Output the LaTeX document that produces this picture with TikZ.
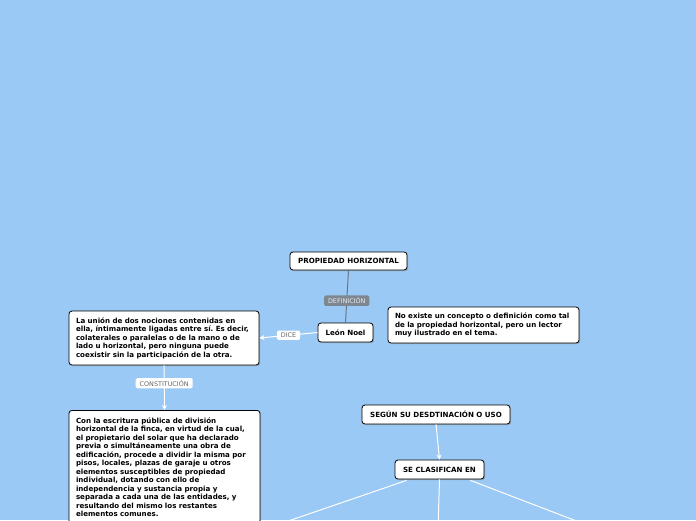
\documentclass[tikz,border=0pt]{standalone}
\usepackage{fontspec}
\setmainfont{DejaVu Sans}
\usepackage{xcolor}
\usetikzlibrary{arrows.meta,positioning,shadows}

\definecolor{canvasBlue}{RGB}{155,201,245}
\definecolor{tagGray}{RGB}{125,135,145}
\definecolor{stemGray}{RGB}{105,120,135}

\frenchspacing
\begin{document}
\begin{tikzpicture}[
    x=1pt, y=-1pt,
    font=\fontsize{7.1}{8.5}\selectfont\bfseries,
    topicNode/.style={
        rectangle, rounded corners=3pt, draw=black, line width=0.8pt,
        fill=white, align=center, inner xsep=7pt, inner ysep=4pt,
        drop shadow={opacity=0.45, shadow xshift=1.2pt, shadow yshift=-1.2pt}
    },
    textNode/.style={
        rectangle, rounded corners=3pt, draw=black, line width=0.8pt,
        fill=white, align=left, inner xsep=7pt, inner ysep=5pt,
        drop shadow={opacity=0.45, shadow xshift=1.2pt, shadow yshift=-1.2pt}
    },
    tagNode/.style={
        rectangle, rounded corners=1.5pt, fill=white, text=gray!80!black,
        font=\fontsize{6.4}{7}\selectfont, inner xsep=4pt, inner ysep=2.2pt
    },
    linkArrow/.style={
        -{Stealth[length=5pt, width=5pt]}, line width=1pt, draw=white
    },
    linkLine/.style={line width=1pt, draw=white}
]

% Canvas
\fill[canvasBlue] (0,0) rectangle (696,520);
\useasboundingbox (0,0) rectangle (696,520);
\clip (0,0) rectangle (696,520);

% Main topic
\node[topicNode, minimum width=117pt, minimum height=18pt] (prop) at (348.5,261) {PROPIEDAD HORIZONTAL};
\node[topicNode, minimum width=55pt, minimum height=19pt] (leon) at (345.5,332.5) {León Noel};

% Definition boxes
\node[textNode, text width=176pt, minimum height=54pt] (union) at (164,338) {
    La unión de dos nociones contenidas en\\
    ella, íntimamente ligadas entre sí. Es decir,\\
    colaterales o paralelas o de la mano o de\\
    lado u horizontal, pero ninguna puede\\
    coexistir sin la participación de la otra.
};
\node[textNode, text width=177pt, minimum height=36pt] (noexiste) at (483.5,325) {
    No existe un concepto o definición como tal\\
    de la propiedad horizontal, pero un lector\\
    muy ilustrado en el tema.
};
\node[textNode, text width=177pt, anchor=north, inner ysep=7pt] (escritura) at (164.5,410) {
    Con la escritura pública de división\\
    horizontal de la finca, en virtud de la cual,\\
    el propietario del solar que ha declarado\\
    previa o simultáneamente una obra de\\
    edificación, procede a dividir la misma por\\
    pisos, locales, plazas de garaje u otros\\
    elementos susceptibles de propiedad\\
    individual, dotando con ello de\\
    independencia y sustancia propia y\\
    separada a cada una de las entidades, y\\
    resultando del mismo los restantes\\
    elementos comunes.\\[6pt]
};

% Classification branch
\node[topicNode, minimum width=148pt, minimum height=19pt] (segun) at (436,414.5) {SEGÚN SU DESDTINACIÓN O USO};
\node[topicNode, minimum width=89pt, minimum height=19pt] (clasif) at (439.5,469.5) {SE CLASIFICAN EN};

% Branch ends below the page
\coordinate (endA) at (262,530);
\coordinate (endB) at (438,530);
\coordinate (endC) at (600,530);

% Connectors
\draw[line width=1pt, draw=stemGray] (prop.south) -- node[tagNode, pos=0.58, fill=tagGray, text=white!85!gray] (tagDef) {DEFINICIÓN} (leon.north);
\draw[linkArrow] (leon.west) -- node[tagNode, pos=0.5] (tagDice) {DICE} (union.east);
\draw[linkArrow] (union.south) -- node[tagNode, pos=0.4] (tagCons) {CONSTITUCIÓN} (escritura.north);
\draw[linkArrow] (segun.south) -- (clasif.north);

\draw[linkLine] (clasif.south west) ++(12,1) -- (endA);
\draw[linkLine] (clasif.south) -- (endB);
\draw[linkLine] (clasif.south east) ++(-14,1) -- (endC);

\end{tikzpicture}
\end{document}
